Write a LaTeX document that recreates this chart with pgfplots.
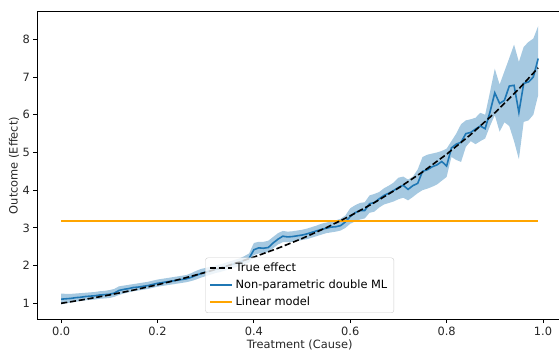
\documentclass[border=0pt]{standalone}
\usepackage{pgfplots}
\pgfplotsset{compat=1.18}
\usepackage{pgfplotstable}
\usepgfplotslibrary{fillbetween}
\usepackage{fontspec}
\setmainfont{DejaVu Sans}
\definecolor{tabblue}{RGB}{31,119,180}
\definecolor{bandblue}{RGB}{166,201,225}
\definecolor{lin}{RGB}{255,165,0}
\pgfplotstableread{
x m lo hi
0.00 1.11 0.97 1.26
0.01 1.12 1.00 1.25
0.02 1.13 1.02 1.25
0.03 1.15 1.04 1.26
0.04 1.16 1.06 1.27
0.05 1.18 1.08 1.28
0.06 1.19 1.09 1.29
0.07 1.20 1.10 1.30
0.08 1.22 1.12 1.32
0.09 1.23 1.13 1.33
0.10 1.24 1.14 1.35
0.11 1.27 1.17 1.38
0.12 1.34 1.22 1.45
0.13 1.37 1.26 1.47
0.14 1.39 1.29 1.49
0.15 1.42 1.32 1.51
0.16 1.43 1.34 1.53
0.17 1.45 1.36 1.55
0.18 1.47 1.38 1.57
0.19 1.50 1.41 1.60
0.20 1.53 1.44 1.63
0.21 1.55 1.46 1.65
0.22 1.57 1.48 1.67
0.23 1.59 1.50 1.69
0.24 1.61 1.52 1.71
0.25 1.63 1.54 1.73
0.26 1.65 1.56 1.75
0.27 1.69 1.59 1.80
0.28 1.74 1.63 1.86
0.29 1.79 1.68 1.91
0.30 1.83 1.72 1.94
0.31 1.86 1.76 1.97
0.32 1.90 1.80 2.00
0.33 1.93 1.83 2.03
0.34 1.97 1.87 2.07
0.35 2.01 1.91 2.11
0.36 2.05 1.95 2.15
0.37 2.09 1.99 2.19
0.38 2.14 2.04 2.25
0.39 2.19 2.08 2.32
0.40 2.42 2.28 2.60
0.41 2.47 2.32 2.63
0.42 2.46 2.33 2.63
0.43 2.48 2.36 2.66
0.44 2.60 2.46 2.76
0.45 2.70 2.56 2.86
0.46 2.78 2.62 2.92
0.47 2.76 2.62 2.90
0.48 2.77 2.63 2.91
0.49 2.79 2.65 2.93
0.50 2.81 2.68 2.95
0.51 2.84 2.70 2.98
0.52 2.88 2.74 3.02
0.53 2.92 2.78 3.06
0.54 2.96 2.82 3.11
0.55 2.99 2.86 3.14
0.56 3.02 2.88 3.17
0.57 3.03 2.90 3.20
0.58 3.06 2.93 3.24
0.59 3.16 3.00 3.33
0.60 3.30 3.11 3.52
0.61 3.40 3.17 3.60
0.62 3.46 3.22 3.66
0.63 3.46 3.25 3.68
0.64 3.64 3.40 3.86
0.65 3.67 3.43 3.90
0.66 3.77 3.54 3.95
0.67 3.86 3.62 4.05
0.68 3.92 3.66 4.12
0.69 3.99 3.70 4.20
0.70 4.07 3.76 4.33
0.71 4.13 3.80 4.36
0.72 4.02 3.73 4.28
0.73 4.12 3.82 4.36
0.74 4.18 3.92 4.55
0.75 4.50 4.00 4.88
0.76 4.54 4.04 4.94
0.77 4.62 4.09 4.97
0.78 4.67 4.15 5.00
0.79 4.76 4.25 5.04
0.80 4.64 4.35 5.10
0.81 5.12 4.88 5.30
0.82 5.22 4.80 5.50
0.83 5.27 4.75 5.75
0.84 5.50 5.15 5.85
0.85 5.53 5.30 5.88
0.86 5.62 5.22 5.92
0.87 5.70 5.30 6.05
0.88 5.63 5.37 6.00
0.89 6.07 5.70 6.60
0.90 6.58 5.99 7.22
0.91 6.30 5.55 6.80
0.92 6.38 5.80 7.15
0.93 6.76 5.70 7.50
0.94 6.78 5.30 7.86
0.95 6.06 4.82 7.40
0.96 6.83 5.81 7.80
0.97 6.87 5.85 7.93
0.98 7.00 6.00 8.02
0.99 7.49 6.52 8.35
}\est
\pgfplotstableread{
x y
0.00 1.000
0.05 1.105
0.10 1.221
0.15 1.350
0.20 1.492
0.25 1.649
0.30 1.822
0.35 2.014
0.40 2.226
0.45 2.460
0.50 2.718
0.55 3.004
0.60 3.320
0.65 3.669
0.70 4.055
0.75 4.482
0.80 4.953
0.85 5.474
0.90 6.050
0.95 6.686
0.99 7.243
}\truth
\begin{document}
\begin{tikzpicture}
\begin{axis}[
  name=ax,
  scale only axis,
  width=524.7pt, height=307.6pt,
  xmin=-0.0495, xmax=1.0395,
  ymin=0.576, ymax=8.732,
  axis line style={black, line width=0.8pt},
  tick align=outside,
  major tick length=3.9pt,
  tick style={black, line width=0.8pt},
  xtick={0,0.2,0.4,0.6,0.8,1.0},
  xticklabels={0.0,0.2,0.4,0.6,0.8,1.0},
  ytick={1,2,3,4,5,6,7,8},
  xtick pos=bottom, ytick pos=left,
  /pgf/number format/assume math mode=true,
  tick label style={font=\fontsize{11.4}{13.5}\selectfont, text=black!85},
  label style={font=\fontsize{11.4}{13.5}\selectfont, text=black!85},
  xlabel={Treatment (Cause)},
  ylabel={Outcome (Effect)},
  xlabel style={at={(axis description cs:0.5,-0.0836)}, anchor=center},
  ylabel style={at={(axis description cs:-0.0444,0.5)}, anchor=center},
  legend style={at={(axis description cs:0.5,0.0205)}, anchor=south,
    font=\fontsize{11.4}{13.5}\selectfont,
    draw=black!20, rounded corners=2.5pt, fill=white, fill opacity=0.8, text opacity=1,
    inner xsep=4pt, inner ysep=2pt, row sep=0pt,
    nodes={inner sep=2.5pt, text height=9pt, text depth=3pt}},
  legend cell align=left,
  legend image code/.code={\draw[#1] (0pt,0pt) -- (22pt,0pt);},
]
\addplot[name path=up, draw=none, forget plot] table[x=x, y=hi]{\est};
\addplot[name path=dn, draw=none, forget plot] table[x=x, y=lo]{\est};
\addplot[fill=bandblue, draw=none, forget plot] fill between[of=up and dn];
\addplot[tabblue, line width=1.6pt, forget plot] table[x=x, y=m]{\est};
\addplot[lin, line width=1.6pt, forget plot] coordinates {(0,3.18) (0.99,3.18)};
\addplot[black, line width=1.6pt, dash pattern=on 6.2pt off 2.7pt] table[x=x, y=y]{\truth};
\addlegendentry{True effect}
\addlegendimage{tabblue, line width=1.6pt}
\addlegendentry{Non-parametric double ML}
\addlegendimage{lin, line width=1.6pt}
\addlegendentry{Linear model}
\end{axis}
\pgfresetboundingbox
\path[use as bounding box] ([xshift=-37.3pt,yshift=-31.7pt]ax.south west) rectangle ([xshift=521.7pt,yshift=11.7pt]ax.north west);
\end{tikzpicture}
\end{document}
